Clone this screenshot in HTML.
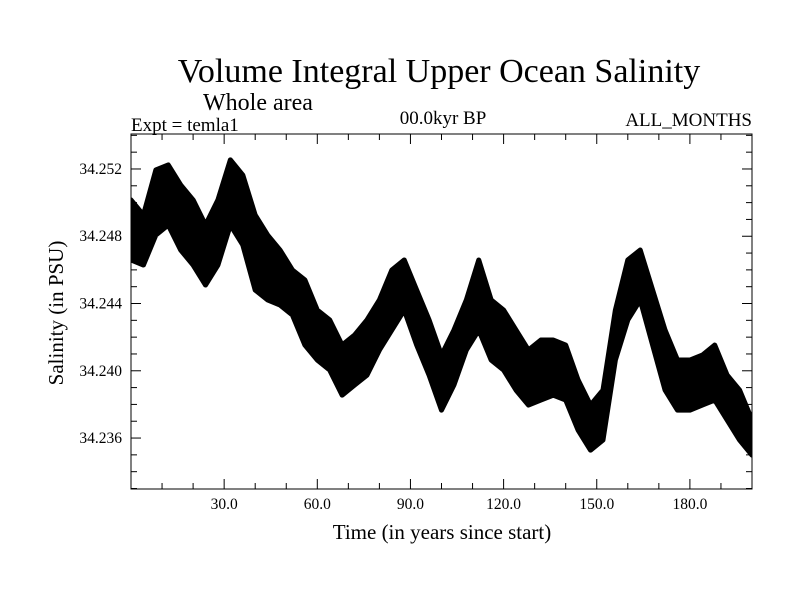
<!DOCTYPE html>
<html><head><meta charset="utf-8"><style>
html,body{margin:0;padding:0;background:#fff}
svg{display:block;font-family:"Liberation Serif",serif}
</style></head><body>
<svg id="chart" width="800" height="600" viewBox="0 0 800 600">
<defs><clipPath id="pc"><rect x="131" y="134" width="621" height="355"/></clipPath></defs>
<text x="439" y="82" font-size="34" text-anchor="middle">Volume Integral Upper Ocean Salinity</text>
<text x="203" y="110" font-size="24">Whole area</text>
<text x="131" y="131" font-size="19">Expt = temla1</text>
<text x="443" y="124" font-size="19" text-anchor="middle">00.0kyr BP</text>
<text x="752" y="126" font-size="19" text-anchor="end">ALL_MONTHS</text>
<text transform="translate(63,313) rotate(-90)" font-size="21" text-anchor="middle">Salinity (in PSU)</text>
<text x="442" y="539" font-size="21" text-anchor="middle">Time (in years since start)</text>
<g id="plot"></g>
</svg>
<script>
const years=[0,4,8,12,16,20,24,28,32,36,40,44,48,52,56,60,64,68,72,76,80,84,88,92,96,100,104,108,112,116,120,124,128,132,136,140,144,148,152,156,160,164,168,172,176,180,184,188,192,196,200];
const upper=[34.25016,34.24926,34.25194,34.25224,34.25105,34.25016,34.24867,34.25016,34.25254,34.25164,34.24926,34.24807,34.24718,34.24599,34.2454,34.24361,34.24302,34.24153,34.24212,34.24302,34.24421,34.24599,34.24659,34.24480,34.24302,34.24093,34.24242,34.24421,34.24659,34.24421,34.24361,34.24242,34.24123,34.24183,34.24183,34.24153,34.23945,34.23796,34.23885,34.24361,34.24659,34.24718,34.24480,34.24242,34.24064,34.24064,34.24093,34.24153,34.23974,34.23885,34.23707];
const lower=[34.24659,34.24629,34.24807,34.24867,34.24718,34.24629,34.24510,34.24629,34.24867,34.24748,34.24480,34.24421,34.24391,34.24331,34.24153,34.24064,34.24004,34.23855,34.23915,34.23974,34.24123,34.24242,34.24361,34.24153,34.23974,34.23766,34.23915,34.24123,34.24242,34.24064,34.24004,34.23885,34.23796,34.23826,34.23855,34.23826,34.23647,34.23528,34.23588,34.24064,34.24302,34.24421,34.24153,34.23885,34.23766,34.23766,34.23796,34.23826,34.23707,34.23588,34.23498];
const yTicks=[34.236,34.240,34.244,34.248,34.252];
const yTickLabels=["34.236","34.240","34.244","34.248","34.252"];
const xTicks=[30,60,90,120,150,180];
const xTickLabels=["30.0","60.0","90.0","120.0","150.0","180.0"];
const L=131,R=752,T=134,B=489,X0=0,X1=200,Y0=34.23297,Y1=34.25408;
const sx=v=>L+(v-X0)/(X1-X0)*(R-L);
const sy=v=>B-(v-Y0)/(Y1-Y0)*(B-T);
const NS="http://www.w3.org/2000/svg";
const g=document.getElementById('plot');
function mk(t,a){const e=document.createElementNS(NS,t);for(const k in a)e.setAttribute(k,a[k]);g.appendChild(e);return e;}
let pts=years.map((y,i)=>sx(y)+","+sy(upper[i]));
for(let i=years.length-1;i>=0;i--)pts.push(sx(years[i])+","+sy(lower[i]));
const band=mk('polygon',{points:pts.join(' '),fill:'#000',stroke:'#000','stroke-width':'5','stroke-linejoin':'round','clip-path':'url(#pc)'});


const frame=mk('rect',{x:L,y:T,width:R-L,height:B-T,fill:'none',stroke:'#000','stroke-width':'1'});


for(let v=34.233;v<=34.2541;v+=0.001){
 const y=sy(v);const major=yTicks.some(t=>Math.abs(t-v)<1e-6);const len=major?10:6;
 const a=mk('line',{x1:L,x2:L+len,y1:y,y2:y,stroke:'#000'});
 
 
 const b=mk('line',{x1:R,x2:R-len,y1:y,y2:y,stroke:'#000'});
 
 
}
yTicks.forEach((v,i)=>{const t=mk('text',{x:L-9,y:sy(v)+5,'font-size':'15.5','text-anchor':'end'});t.textContent=yTickLabels[i];
 
 });
for(let v=10;v<200;v+=10){
 const x=sx(v);const major=xTicks.includes(v);const len=major?10:6;
 const a=mk('line',{x1:x,x2:x,y1:B,y2:B-len,stroke:'#000'});
 
 
 const b=mk('line',{x1:x,x2:x,y1:T,y2:T+len,stroke:'#000'});
 
 
}
xTicks.forEach((v,i)=>{const t=mk('text',{x:sx(v),y:B+20,'font-size':'15.5','text-anchor':'middle'});t.textContent=xTickLabels[i];
 
 });
</script>
</body></html>
